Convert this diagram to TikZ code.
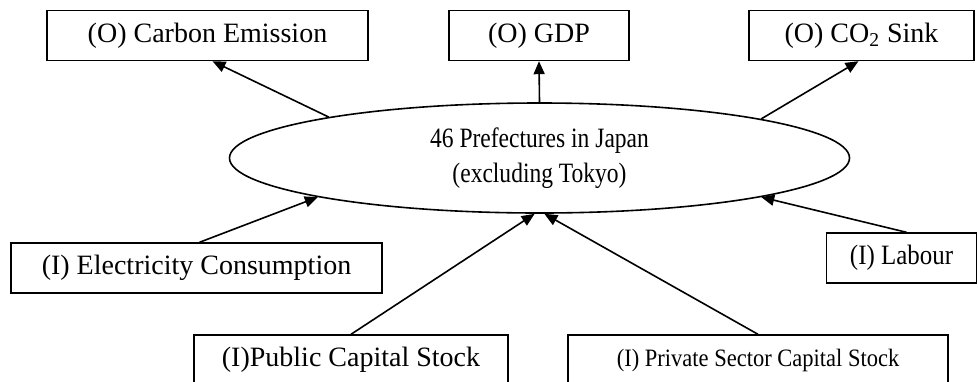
\documentclass[tikz,border=0pt]{standalone}
\usepackage{fontspec}
\setmainfont{Liberation Serif}
\usetikzlibrary{shapes.geometric,arrows.meta}

\begin{document}
\begin{tikzpicture}[
    x=0.5pt, y=-0.5pt,
    box/.style={draw, line width=0.7pt, rectangle, minimum height=25pt, inner sep=2pt,
                font=\fontsize{14}{16}\selectfont},
    narrow/.style 2 args={font=\fontsize{#1}{16}\selectfont\addfontfeature{FakeStretch=#2}},
    hub/.style={draw, line width=0.8pt, ellipse, minimum width=310pt, minimum height=55pt,
                align=center, font=\fontsize{14}{17.5}\selectfont\addfontfeature{FakeStretch=0.84}},
    link/.style={line width=0.8pt, -{Triangle[length=6.5pt,width=5.5pt]}}]

\clip (0,0) rectangle (978,381);

% outputs
\node[box, minimum width=160.5pt] (carbon) at (207.5,35.5) {(O) Carbon Emission};
\node[box, minimum width=90pt]    (gdp)    at (539,35.5)   {(O) GDP};
\node[box, minimum width=112.5pt] (sink)   at (861.5,35.5) {(O) CO\textsubscript{2} Sink};

% the prefectures
\node[hub] (pref) at (539.5,158) {46 Prefectures in Japan\\(excluding Tokyo)};

% inputs
\node[box, narrow={14}{0.89}, minimum width=75pt] (labour) at (901.5,258) {(I) Labour};
\node[box, minimum width=185.5pt] (elec)    at (196.5,268) {(I) Electricity Consumption};
\node[box, minimum width=157pt]   (public)  at (351,360)   {(I)Public Capital Stock};
\node[box, narrow={12.5}{0.9}, minimum width=190pt] (private) at (758,360) {(I) Private Sector Capital Stock};

\draw[link] (pref.169.5) -- ([xshift=2.5pt]carbon.south);
\draw[link] (pref.north) -- (gdp.south);
\draw[link] (pref.10.3) -- ([xshift=-1.5pt]sink.south);

\draw[link] ([xshift=1.5pt]elec.north) -- (pref.190);
\draw[link] ([xshift=2.5pt]labour.north) -- (pref.350);
\draw[link] (public.north) -- (pref.265);
\draw[link] (private.north) -- (pref.275);

\end{tikzpicture}
\end{document}
